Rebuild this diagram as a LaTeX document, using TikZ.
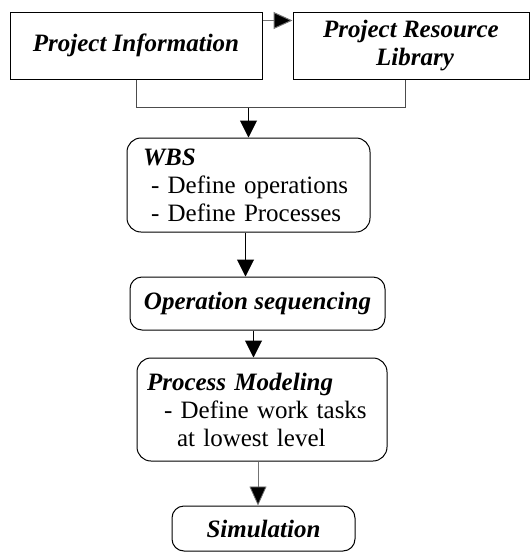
\documentclass[tikz,border=0pt]{standalone}
\usepackage{fontspec}
\setmainfont{Liberation Serif}
\usetikzlibrary{arrows.meta,calc}
\begin{document}
\begin{tikzpicture}[x=1pt,y=1pt,
  every node/.style={font=\fontsize{25}{28}\selectfont},
  title/.style={font=\fontsize{25}{28}\selectfont\bfseries\itshape},
  sqbox/.style={draw, line width=1pt, inner sep=0pt},
  rbox/.style={draw, line width=1pt, rounded corners=14pt, inner sep=0pt},
  flow/.style={line width=1pt, -{Triangle[width=17pt,length=17pt]}},
  greyflow/.style={line width=1pt, draw=black!55, -{Triangle[width=17pt,length=19pt,fill=black]}},
  merge line/.style={line width=0.9pt, draw=black!70}]
\useasboundingbox (0,0) rectangle (531,-552);

% top row: information sources
\node[sqbox, minimum width=252pt, minimum height=67pt, title] (pi) at (136,-45.5) {Project Information};
\node[sqbox, minimum width=236pt, minimum height=67pt, title, align=center] (prl) at (411,-45.5)
  {Project Resource\\\hspace*{8pt}Library};

% process steps
\node[rbox, minimum width=243pt, minimum height=94pt, text width=211pt, align=left] (wbs) at (248.5,-185)
  {\textbf{\textit{WBS}}\\\hspace*{8pt}- Define operations\\\hspace*{8pt}- Define Processes};
\node[rbox, rounded corners=12pt, minimum width=255pt, minimum height=53pt, title] (ops) at (257.5,-303.5)
  {Operation sequencing};
\node[rbox, minimum width=250pt, minimum height=103pt, text width=230pt, align=left] (pm) at (262,-409.5)
  {\textbf{\textit{Process Modeling}}\\\hspace*{17pt}- Define work tasks\\\hspace*{30pt}at lowest level};
\node[rbox, rounded corners=12pt, minimum width=183pt, minimum height=45pt, title] (sim) at (263.5,-528.5)
  {Simulation};

% connectors
\draw[greyflow] ($(pi.north east)+(0,-9)$) -- ($(prl.north west)+(0,-9)$);
\coordinate (pj) at ($(pi.south)+(0,-28)$);
\coordinate (lb) at ($(prl.south)+(-6,0)$);
\draw[merge line] (pi.south) -- (pj) -- (lb |- pj) -- (lb);
\coordinate (jn) at (pj -| wbs.north);
\draw[flow] (jn) -- (wbs.north);
\draw[flow] ($(wbs.south)+(-3,0)$) coordinate (w1) -- (w1 |- ops.north);
\draw[flow] ($(ops.south)+(-4,0)$) coordinate (o1) -- (o1 |- pm.north);
\draw[greyflow, line width=0.8pt] ($(pm.south)+(-4,0)$) coordinate (p1) -- (p1 |- sim.north);
\end{tikzpicture}
\end{document}
